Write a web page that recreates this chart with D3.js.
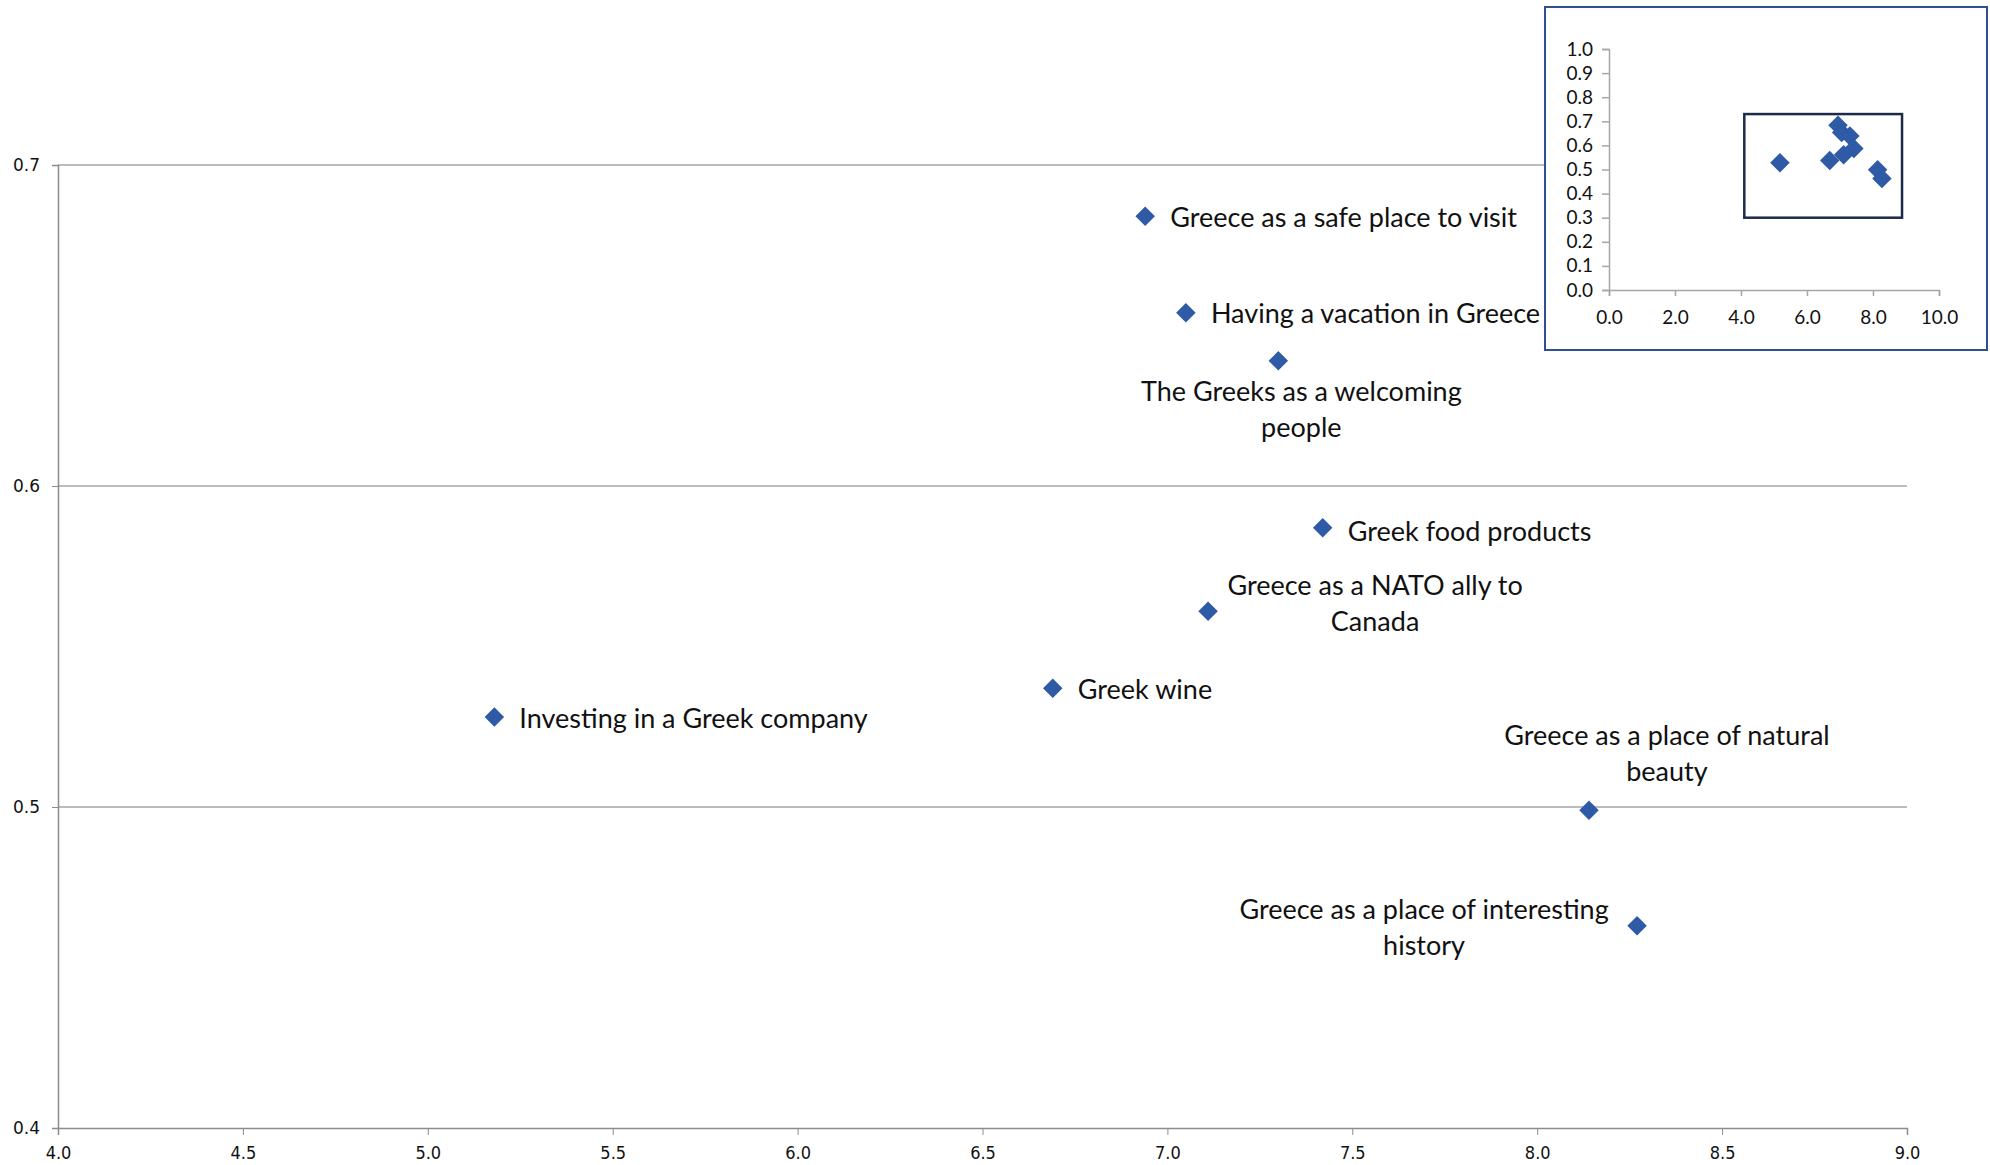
<!DOCTYPE html>
<html lang="en">
<head>
    <meta charset="UTF-8">
    <title>Greece perception scatter</title>
    <script src="https://cdn.jsdelivr.net/npm/d3@7"></script>
    <style>
        body { margin: 0; background: #fff; }
    </style>
</head>
<body>
    <script>
        // page size
        var w = 1990;
        var h = 1165;

        // data
        var names = [
            "Greece as a safe place to visit",
            "Having a vacation in Greece",
            "The Greeks as a welcoming people",
            "Greek food products",
            "Greece as a NATO ally to Canada",
            "Greek wine",
            "Investing in a Greek company",
            "Greece as a place of natural beauty",
            "Greece as a place of interesting history"
        ];
        var xValues = [6.94, 7.05, 7.30, 7.42, 7.11, 6.69, 5.18, 8.14, 8.27];
        var yValues = [0.684, 0.654, 0.639, 0.587, 0.561, 0.537, 0.528, 0.499, 0.463];

        // tick labels
        var xTicks = [4.0, 4.5, 5.0, 5.5, 6.0, 6.5, 7.0, 7.5, 8.0, 8.5, 9.0];
        var yTicks = [0.4, 0.5, 0.6, 0.7];
        var insetXTicks = [0, 2, 4, 6, 8, 10];
        var insetYTicks = [0, 0.1, 0.2, 0.3, 0.4, 0.5, 0.6, 0.7, 0.8, 0.9, 1.0];

        // how each label sits next to its point (lines, offset from the point)
        var labelLines = [
            ["Greece as a safe place to visit"],
            ["Having a vacation in Greece"],
            ["The Greeks as a welcoming", "people"],
            ["Greek food products"],
            ["Greece as a NATO ally to", "Canada"],
            ["Greek wine"],
            ["Investing in a Greek company"],
            ["Greece as a place of natural", "beauty"],
            ["Greece as a place of interesting", "history"]
        ];
        var labelAnchor = ["start", "start", "middle", "start", "middle", "start", "start", "middle", "middle"];
        var labelDx = [25, 25, 23, 25, 167, 25, 25, 78, -213];
        var labelDy = [1, 1, 31, 4, -26, 1, 1, -75, -16];
        var lineGap = 36;

        var blue = "#2f5aa5";

        var svg = d3.select("body")
                    .append("svg")
                    .attr("width", w)
                    .attr("height", h);

        // main scales
        var x = d3.scaleLinear().domain([4, 9]).range([58, 1907]);
        var y = d3.scaleLinear().domain([0.4, 0.7]).range([1128, 165]);

        // gridlines
        svg.append("g")
            .selectAll("line")
            .data(yTicks.slice(1))
            .enter()
            .append("line")
            .attr("x1", x(4))
            .attr("x2", x(9))
            .attr("y1", function(d) { return y(d); })
            .attr("y2", function(d) { return y(d); })
            .attr("stroke", "#a6a6a6")
            .attr("stroke-width", 1.3);

        // x axis
        var xAxis = svg.append("g")
            .attr("transform", "translate(0," + y(0.4) + ")")
            .call(d3.axisBottom(x).tickValues(xTicks).tickFormat(d3.format(".1f")).tickSize(7).tickPadding(11));
        xAxis.select(".domain").attr("stroke", "#8c8c8c").attr("stroke-width", 1.5);
        xAxis.selectAll(".tick line").attr("stroke", "#8c8c8c");
        xAxis.selectAll("text")
            .attr("font-family", "'DejaVu Sans Condensed', 'DejaVu Sans', sans-serif")
            .attr("font-stretch", "condensed")
            .attr("font-size", "18px")
            .attr("fill", "#111");

        // y axis
        var yAxis = svg.append("g")
            .attr("transform", "translate(" + x(4) + ",0)")
            .call(d3.axisLeft(y).tickValues(yTicks).tickFormat(d3.format(".1f")).tickSize(6).tickPadding(12));
        yAxis.select(".domain").attr("stroke", "#8c8c8c").attr("stroke-width", 1.5);
        yAxis.selectAll(".tick line").attr("stroke", "#8c8c8c");
        yAxis.selectAll("text")
            .attr("font-family", "'DejaVu Sans', sans-serif")
            .attr("font-size", "17px")
            .attr("fill", "#111");

        // points
        var diamond = d3.symbol().type(d3.symbolSquare).size(190);
        var pts = svg.append("g")
            .selectAll("g.pt")
            .data(names)
            .enter()
            .append("g")
            .attr("class", "pt")
            .attr("transform", function(d, i) {
                return "translate(" + x(xValues[i]) + "," + y(yValues[i]) + ")";
            });

        pts.append("path")
            .attr("d", diamond)
            .attr("transform", "rotate(45)")
            .attr("fill", blue);

        // labels
        pts.append("text")
            .attr("text-anchor", function(d, i) { return labelAnchor[i]; })
            .attr("font-family", "Lato, 'Open Sans', sans-serif")
            .attr("font-size", "27px")
            .attr("fill", "#111")
            .each(function(d, i) {
                var t = d3.select(this);
                labelLines[i].forEach(function(line, k) {
                    t.append("tspan")
                        .attr("x", labelDx[i])
                        .attr("y", labelDy[i] + k * lineGap)
                        .attr("dy", "0.35em")
                        .text(line);
                });
            });

        // inset chart
        var inset = svg.append("g");
        inset.append("rect")
            .attr("x", 1545)
            .attr("y", 7)
            .attr("width", 442)
            .attr("height", 343)
            .attr("fill", "#fff")
            .attr("stroke", "#2f4f8f")
            .attr("stroke-width", 2);

        var ix = d3.scaleLinear().domain([0, 10]).range([1609, 1939]);
        var iy = d3.scaleLinear().domain([0, 1]).range([290, 49]);

        var ixAxis = inset.append("g")
            .attr("transform", "translate(0," + iy(0) + ")")
            .call(d3.axisBottom(ix).tickValues(insetXTicks).tickFormat(d3.format(".1f")).tickSize(6).tickPadding(15));
        var iyAxis = inset.append("g")
            .attr("transform", "translate(" + ix(0) + ",0)")
            .call(d3.axisLeft(iy).tickValues(insetYTicks).tickFormat(d3.format(".1f")).tickSize(7).tickPadding(9));
        [ixAxis, iyAxis].forEach(function(a) {
            a.select(".domain").attr("stroke", "#a6a6a6").attr("stroke-width", 1.5);
            a.selectAll(".tick line").attr("stroke", "#a6a6a6").attr("stroke-width", 1.5);
            a.selectAll("text")
                .attr("font-family", "Lato, 'Open Sans', sans-serif")
                .attr("font-size", "19px")
                .attr("fill", "#111");
        });

        inset.append("g")
            .selectAll("path")
            .data(names)
            .enter()
            .append("path")
            .attr("d", diamond)
            .attr("transform", function(d, i) {
                return "translate(" + ix(xValues[i]) + "," + iy(yValues[i]) + ") rotate(45)";
            })
            .attr("fill", blue);

        // zoom window drawn on the inset
        inset.append("rect")
            .attr("x", ix(4.1))
            .attr("y", iy(0.73))
            .attr("width", ix(8.88) - ix(4.1))
            .attr("height", iy(0.3) - iy(0.73))
            .attr("fill", "none")
            .attr("stroke", "#1c2b4a")
            .attr("stroke-width", 2.5);
    </script>
</body>
</html>
